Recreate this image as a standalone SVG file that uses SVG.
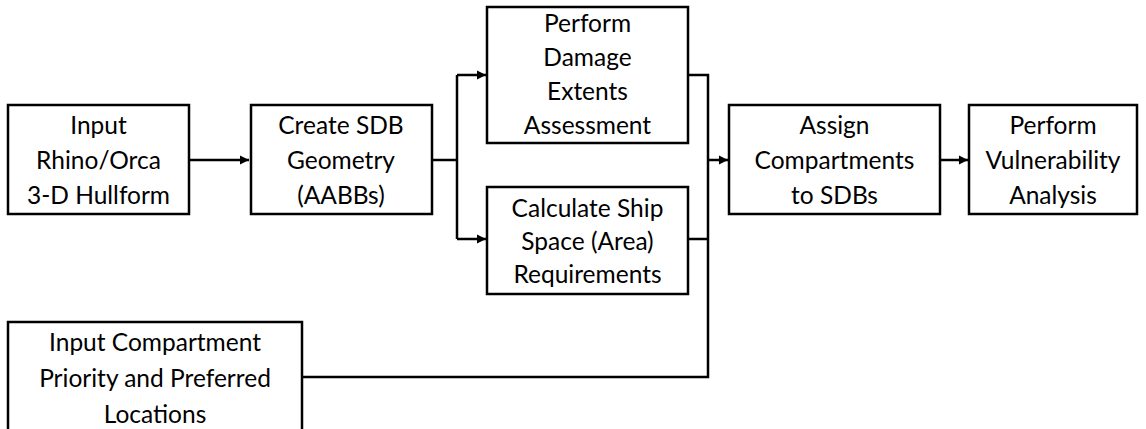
<svg xmlns="http://www.w3.org/2000/svg" width="1146" height="429" viewBox="0 0 1146 429">
<style>
.box{fill:#fff;stroke:#000;stroke-width:2.5}
.t{font-family:Lato,"Open Sans","Liberation Sans",sans-serif;font-size:24.5px;fill:#000;text-anchor:middle}
.c{fill:none;stroke:#000;stroke-width:2.5}
</style>
<defs>
<marker id="ah" markerWidth="10" markerHeight="10" refX="9" refY="5" orient="auto" markerUnits="userSpaceOnUse">
<path d="M0,0.5 L9,5 L0,9.5 Z" fill="#000"/>
</marker>
</defs>
<rect width="1146" height="429" fill="#fff"/>
<g id="connectors">
<path class="c" d="M189,160 H249" marker-end="url(#ah)"/>
<path class="c" d="M432,160 H457"/>
<path class="c" d="M457,75 V239"/>
<path class="c" d="M457,75 H486" marker-end="url(#ah)"/>
<path class="c" d="M457,239 H486" marker-end="url(#ah)"/>
<path class="c" d="M688,75 H708 V377 H302"/>
<path class="c" d="M688,239 H708"/>
<path class="c" d="M708,160 H728" marker-end="url(#ah)"/>
<path class="c" d="M940,160 H968" marker-end="url(#ah)"/>
</g>
<g id="n1"><rect class="box" x="8" y="105" width="181" height="109"/>
<text class="t" x="98.5" y="134">Input</text><text class="t" x="98.5" y="169">Rhino/Orca</text><text class="t" x="98.5" y="204">3-D Hullform</text></g>
<g id="n2"><rect class="box" x="251" y="105" width="181" height="109"/>
<text class="t" x="341" y="134">Create SDB</text><text class="t" x="341" y="169">Geometry</text><text class="t" x="341" y="204">(AABBs)</text></g>
<g id="n3"><rect class="box" x="487" y="7" width="201" height="136"/>
<text class="t" x="587.5" y="32">Perform</text><text class="t" x="587.5" y="66">Damage</text><text class="t" x="587.5" y="100">Extents</text><text class="t" x="587.5" y="134">Assessment</text></g>
<g id="n4"><rect class="box" x="487" y="187" width="201" height="107"/>
<text class="t" x="587.5" y="217">Calculate Ship</text><text class="t" x="587.5" y="250">Space (Area)</text><text class="t" x="587.5" y="283">Requirements</text></g>
<g id="n5"><rect class="box" x="729" y="105" width="211" height="109"/>
<text class="t" x="834.5" y="134">Assign</text><text class="t" x="834.5" y="169">Compartments</text><text class="t" x="834.5" y="204">to SDBs</text></g>
<g id="n6"><rect class="box" x="969" y="105" width="168" height="109"/>
<text class="t" x="1053" y="134">Perform</text><text class="t" x="1053" y="169">Vulnerability</text><text class="t" x="1053" y="204">Analysis</text></g>
<g id="n7"><rect class="box" x="8" y="322" width="294" height="112"/>
<text class="t" x="155" y="351">Input Compartment</text><text class="t" x="155" y="387">Priority and Preferred</text><text class="t" x="155" y="423">Locations</text></g>
</svg>
